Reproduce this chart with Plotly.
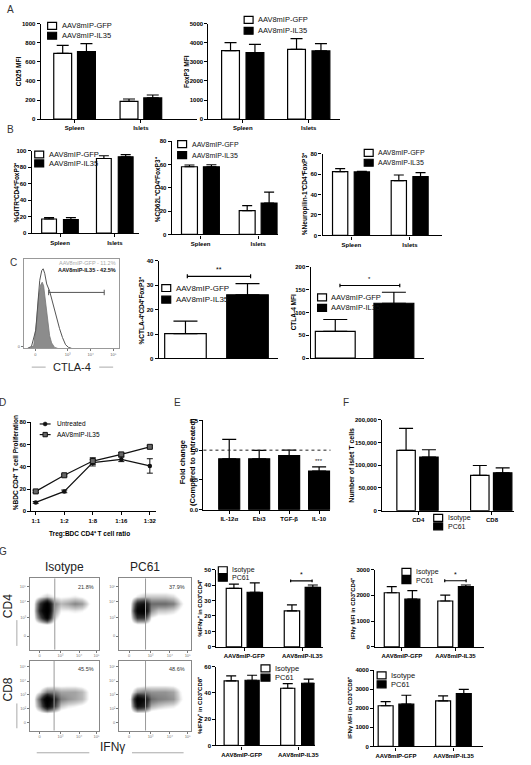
import plotly.graph_objects as go

W, H = 531, 765
FONT = "Liberation Sans, Arial, sans-serif"

# ---------------- data ----------------
aav_groups = ["AAV8mIP-GFP", "AAV8mIP-IL35"]
ab_groups = ["Isotype", "PC61"]
tissues = ["Spleen", "Islets"]

a1_gfp, a1_gfp_sem = [690, 186], [84, 25]
a1_il35, a1_il35_sem = [708, 222], [84, 31]
a2_gfp, a2_gfp_sem = [3595, 3660], [415, 560]
a2_il35, a2_il35_sem = [3490, 3580], [430, 380]

b1_gfp, b1_gfp_sem = [17.2, 90.7], [1.8, 3.3]
b1_il35, b1_il35_sem = [16.5, 92.8], [2.5, 2.7]
b2_gfp, b2_gfp_sem = [58.1, 20.4], [1.5, 4.3]
b2_il35, b2_il35_sem = [58.0, 26.9], [1.8, 9.4]
b3_gfp, b3_gfp_sem = [62.3, 53.6], [2.9, 5.4]
b3_il35, b3_il35_sem = [62.0, 57.4], [0.5, 3.9]

c2_vals, c2_sem = [10.2, 26.1], [5.1, 4.6]
c3_vals, c3_sem = [58.5, 120.0], [26.0, 24.0]

# CTLA-4 histogram (channel 0-100, % of max)
hist_x_il35 = [4, 8, 12.5, 14.6, 16.7, 18.8, 20.3, 21.9, 24, 27.1, 30.2, 33.3, 37.5, 40.6, 43.8, 46.9, 50]
hist_y_il35 = [0, 2, 20, 53, 76, 87, 89, 84, 72, 64, 51, 37, 22, 12, 4, 1, 0]
hist_x_gfp = [6.3, 10.4, 13.5, 15.6, 17.7, 19.3, 20.8, 22.9, 25, 27.1, 29.2, 32.3, 35.4]
hist_y_gfp = [0, 3, 31, 59, 71, 74, 70, 53, 31, 14, 6, 1, 0]

ratios = ["1:1", "1:2", "1:8", "1:16", "1:32"]
d_untreated, d_untreated_err = [8, 17.9, 43.8, 46.7, 40.8], [0.8, 1.2, 3, 2, 6.5]
d_il35, d_il35_err = [17.9, 32.4, 45.2, 51.2, 58.0], [1, 0.8, 3, 1.5, 1]

cytokines = ["IL-12α", "Ebi3", "TGF-β", "IL-10"]
e_fold, e_sem = [0.855, 0.855, 0.91, 0.65], [0.325, 0.14, 0.09, 0.07]

tcells = ["CD4", "CD8"]
f_iso, f_iso_sem = [132600, 77600], [48400, 21700]
f_pc61, f_pc61_sem = [118000, 83400], [16000, 10600]

g1_iso, g1_iso_sem = [37.8, 23.3], [2.8, 3.8]
g1_pc61, g1_pc61_sem = [35.3, 38.5], [6.1, 1.5]
g2_iso, g2_iso_sem = [2100, 1780], [235, 230]
g2_pc61, g2_pc61_sem = [1850, 2335], [330, 65]
g3_iso, g3_iso_sem = [49.2, 43.6], [3.8, 3.6]
g3_pc61, g3_pc61_sem = [49.7, 47.4], [3.8, 3.1]
g4_iso, g4_iso_sem = [2130, 2390], [220, 260]
g4_pc61, g4_pc61_sem = [2210, 2770], [470, 220]

# flow dot-plot densities (rows bottom->top, cols left->right)
grid_pos = [5, 15, 25, 35, 45, 55, 65, 75, 85, 95]
dens_cd4_iso = [
    [0]*10, [0]*10, [0]*10,
    [0, 0, 0.3, 0.1, 0, 0, 0, 0, 0, 0],
    [0, 4, 8, 1.5, 0.2, 0.1, 0.1, 0.1, 0, 0],
    [0, 6, 10, 2.5, 0.8, 0.8, 1.0, 0.8, 0.2, 0],
    [0, 5, 9, 3.0, 1.8, 2.2, 2.8, 2.4, 0.8, 0],
    [0, 0.8, 1.5, 0.8, 0.6, 0.7, 0.9, 0.6, 0.1, 0],
    [0, 0, 0.1, 0, 0, 0, 0, 0, 0, 0],
    [0]*10]
dens_cd4_pc61 = [
    [0]*10, [0]*10, [0]*10,
    [0, 0, 0.2, 0.2, 0, 0, 0, 0, 0, 0],
    [0, 0.3, 5, 5, 0.8, 0.3, 0.3, 0.2, 0.1, 0],
    [0, 0.5, 8, 9, 2.5, 1.5, 1.5, 1.2, 0.5, 0],
    [0, 0.3, 6, 7, 3.5, 3.5, 3.5, 3.0, 1.2, 0],
    [0, 0, 1, 1.5, 1.5, 1.5, 1.5, 1.2, 0.4, 0],
    [0, 0, 0, 0.2, 0.2, 0.2, 0.2, 0.1, 0, 0],
    [0]*10]
dens_cd8_iso = [
    [0]*10, [0]*10,
    [0, 0.3, 0.8, 0.4, 0.1, 0, 0, 0, 0, 0],
    [0, 3, 8, 5, 1.5, 1, 0.8, 0.5, 0.2, 0],
    [0, 4, 10, 6, 3, 2.5, 2.2, 1.8, 0.6, 0],
    [0, 1, 3, 3, 2.2, 2.2, 2.2, 1.8, 0.6, 0],
    [0, 0, 0.3, 0.4, 0.4, 0.5, 0.5, 0.3, 0.1, 0],
    [0]*10, [0]*10, [0]*10]
dens_cd8_pc61 = [
    [0]*10, [0]*10,
    [0, 0, 0.6, 0.5, 0.1, 0, 0, 0, 0, 0],
    [0, 0.5, 7, 6, 2, 1.5, 1.2, 1, 0.4, 0],
    [0, 0.8, 9, 7, 3.5, 3, 2.8, 2.5, 1, 0],
    [0, 0.2, 2.5, 3, 2.5, 2.5, 2.5, 2.2, 0.8, 0],
    [0, 0, 0.2, 0.4, 0.6, 0.6, 0.6, 0.5, 0.2, 0],
    [0]*10, [0]*10, [0]*10]
dot_pct = ["21.8%", "37.9%", "45.5%", "48.6%"]
hist_pct = ["AAV8mIP-GFP - 11.2%", "AAV8mIP-IL35 - 42.5%"]

# ---------------- helpers ----------------
fig = go.Figure()
axes = {}
ann = []
shp = []
cnt = [0]


def X(px):
    return px / W


def Y(py):
    return 1 - py / H


def new_axes(x0, x1, yt, yb, xo, yo):
    cnt[0] += 1
    i = cnt[0]
    s = "" if i == 1 else str(i)
    axes["xaxis" + s] = dict(domain=[X(x0), X(x1)], anchor="y" + s, **xo)
    axes["yaxis" + s] = dict(domain=[Y(yb), Y(yt)], anchor="x" + s, **yo)
    return "x" + s, "y" + s


TICKF = dict(family=FONT, size=6, color="black", weight="bold")


def ystyle(rng, dtick, fmt=None):
    d = dict(range=rng, dtick=dtick, tick0=0, showgrid=False, zeroline=False,
             showline=True, linecolor="black", linewidth=1.3, ticks="outside",
             ticklen=3, tickwidth=1.2, tickcolor="black", tickfont=TICKF,
             fixedrange=True)
    if fmt:
        d["tickformat"] = fmt
    return d


def xstyle(rng, ticks=True, labels=True, size=6):
    return dict(type="category", range=rng, showgrid=False, zeroline=False,
                showline=True, linecolor="black", linewidth=1.3,
                ticks="outside" if ticks else "", ticklen=3, tickwidth=1.2,
                tickcolor="black", showticklabels=labels,
                tickfont=dict(family=FONT, size=size, color="black", weight="bold"),
                fixedrange=True)


def add_bars(xr, yr, cats, vals, sem, width, offset, fill, cap):
    fig.add_trace(go.Bar(
        x=cats, y=vals, width=width, offset=offset, xaxis=xr, yaxis=yr,
        marker=dict(color=fill, line=dict(color="black", width=1.2)),
        error_y=dict(type="data", array=sem, arrayminus=[0] * len(sem),
                     symmetric=False, color="black", thickness=1.2, width=cap),
        showlegend=False, hoverinfo="skip"))


def legend(px, py, names, fills=("white", "black"), size=7.5, gap=10):
    for k, (nm, fc) in enumerate(zip(names, fills)):
        yy = py + k * gap
        shp.append(dict(type="rect", xref="paper", yref="paper",
                        x0=X(px), x1=X(px + 9), y0=Y(yy + 3.5), y1=Y(yy - 3.5),
                        fillcolor=fc, line=dict(color="black", width=1.2)))
        ann.append(dict(x=X(px + 12), y=Y(yy), xref="paper", yref="paper",
                        text=nm, showarrow=False, xanchor="left", yanchor="middle",
                        font=dict(family=FONT, size=size, color="#111")))


def ylab(px, py, text, size=6.5):
    ann.append(dict(x=X(px), y=Y(py), xref="paper", yref="paper", text=text,
                    textangle=-90, showarrow=False, xanchor="center", yanchor="middle",
                    font=dict(family=FONT, size=size, color="black", weight="bold")))


def text(px, py, t, size=8, color="black", xanchor="center", bold=False, angle=0):
    f = dict(family=FONT, size=size, color=color)
    if bold:
        f["weight"] = "bold"
    ann.append(dict(x=X(px), y=Y(py), xref="paper", yref="paper", text=t,
                    showarrow=False, xanchor=xanchor, yanchor="middle", font=f,
                    textangle=angle))


def pline(x0, y0, x1, y1, color="#999", w=1):
    shp.append(dict(type="line", xref="paper", yref="paper", x0=X(x0), x1=X(x1),
                    y0=Y(y0), y1=Y(y1), line=dict(color=color, width=w)))


def bracket(xr, yr, xa, xb, yv, label, h, lsize=7):
    ln = dict(color="black", width=1.2)
    shp.append(dict(type="line", xref=xr, yref=yr, x0=xa, x1=xb, y0=yv, y1=yv, line=ln))
    for xx in (xa, xb):
        shp.append(dict(type="line", xref=xr, yref=yr, x0=xx, x1=xx,
                        y0=yv - h, y1=yv + h, line=ln))
    ann.append(dict(x=(xa + xb) / 2, y=yv, xref=xr, yref=yr, text=label, showarrow=False,
                    yanchor="bottom", yshift=1, font=dict(family=FONT, size=lsize, color="black")))


# ---------------- panel A ----------------
xr, yr = new_axes(41, 198, 21, 117, xstyle([-0.51, 1.84]), ystyle([0, 1000], 200))
add_bars(xr, yr, tissues, a1_gfp, a1_gfp_sem, 0.27, -0.313, "white", 6)
add_bars(xr, yr, tissues, a1_il35, a1_il35_sem, 0.27, 0.045, "black", 6)
legend(48, 23, aav_groups)
ylab(19, 69, "CD25 MFI")

xr, yr = new_axes(210, 343, 21, 117, xstyle([-0.52, 1.48]), ystyle([0, 5000], 1000))
add_bars(xr, yr, tissues, a2_gfp, a2_gfp_sem, 0.27, -0.32, "white", 6)
add_bars(xr, yr, tissues, a2_il35, a2_il35_sem, 0.27, 0.05, "black", 6)
legend(246, 17, aav_groups, gap=11)
ylab(188, 69, "FoxP3 MFI")

# ---------------- panel B ----------------
xr, yr = new_axes(32, 140, 149, 232, xstyle([-0.516, 1.44]), ystyle([0, 100], 20))
add_bars(xr, yr, tissues, b1_gfp, b1_gfp_sem, 0.27, -0.335, "white", 5)
add_bars(xr, yr, tissues, b1_il35, b1_il35_sem, 0.27, 0.063, "black", 5)
legend(35, 152.7, aav_groups, gap=9)
ylab(17, 190, "%GITR⁺CD4⁺FoxP3⁺")

xr, yr = new_axes(173, 280, 139.3, 233.3, xstyle([-0.5, 1.34]), ystyle([0, 80], 20))
add_bars(xr, yr, tissues, b2_gfp, b2_gfp_sem, 0.276, -0.33, "white", 5)
add_bars(xr, yr, tissues, b2_il35, b2_il35_sem, 0.276, 0.05, "black", 5)
legend(179, 142.3, aav_groups, gap=11, size=7)
ylab(159, 188, "%CD62L⁺CD4⁺FoxP3⁺")

xr, yr = new_axes(325, 445, 151.7, 234.3, xstyle([-0.49, 1.54]), ystyle([0, 80], 20))
add_bars(xr, yr, tissues, b3_gfp, b3_gfp_sem, 0.26, -0.32, "white", 5)
add_bars(xr, yr, tissues, b3_il35, b3_il35_sem, 0.26, 0.05, "black", 5)
legend(367, 151, aav_groups, gap=10, size=7)
ylab(308, 192, "%Neuropilin-1⁺CD4⁺FoxP3⁺")

# ---------------- panel C ----------------
hx, hy = new_axes(24, 120, 258, 348,
                  dict(range=[0, 100], showgrid=False, zeroline=False, showline=True,
                       mirror=True, linecolor="#999", linewidth=1, ticks="outside",
                       ticklen=2, tickcolor="#777", tickvals=[12, 46, 70, 94],
                       ticktext=["0", "10³", "10⁴", "10⁵"],
                       tickfont=dict(family=FONT, size=4, color="#666"), fixedrange=True),
                  dict(range=[0, 100], showgrid=False, zeroline=False, showline=True,
                       mirror=True, linecolor="#999", linewidth=1, ticks="outside",
                       ticklen=2, tickcolor="#777", tickvals=[2], ticktext=["0"],
                       tickfont=dict(family=FONT, size=4, color="#666"), fixedrange=True))
fig.add_trace(go.Scatter(x=hist_x_gfp, y=hist_y_gfp, mode="lines", fill="tozeroy",
                         fillcolor="#8c8c8c", line=dict(color="#777", width=0.8),
                         xaxis=hx, yaxis=hy, showlegend=False, hoverinfo="skip"))
fig.add_trace(go.Scatter(x=hist_x_il35, y=hist_y_il35, mode="lines",
                         line=dict(color="#555", width=1), xaxis=hx, yaxis=hy,
                         showlegend=False, hoverinfo="skip"))
text(119, 261.7, hist_pct[0], size=5.5, color="#aaa", xanchor="right")
text(119, 269.5, hist_pct[1], size=5.5, color="#111", xanchor="right", bold=True)
pline(49, 291.7, 105, 291.7, color="#555", w=1)
pline(49, 289, 49, 294.5, color="#555", w=1)
pline(105, 289, 105, 294.5, color="#555", w=1)
text(73, 367, "CTLA-4", size=11, color="#222")
pline(32, 367, 46, 367, color="#aaa")
pline(100, 367, 114, 367, color="#aaa")

xr, yr = new_axes(160, 280, 260, 358.3, xstyle([-0.43, 1.49], ticks=False, labels=False),
                  ystyle([0, 40], 10))
add_bars(xr, yr, [aav_groups[0]], [c2_vals[0]], [c2_sem[0]], 0.67, -0.335, "white", 12)
add_bars(xr, yr, [aav_groups[1]], [c2_vals[1]], [c2_sem[1]], 0.67, -0.335, "black", 12)
bracket(xr, yr, 0.03, 1.05, 33.7, "**", 0.8)
legend(163, 287.3, aav_groups, gap=11.7, size=8)
ylab(143, 310, "%CTLA-4⁺CD4⁺FoxP3⁺")

xr, yr = new_axes(313, 427, 265.7, 358, xstyle([-0.42, 1.51], ticks=False, labels=False),
                  ystyle([0, 200], 50))
add_bars(xr, yr, [aav_groups[0]], [c3_vals[0]], [c3_sem[0]], 0.68, -0.34, "white", 12)
add_bars(xr, yr, [aav_groups[1]], [c3_vals[1]], [c3_sem[1]], 0.68, -0.34, "black", 12)
bracket(xr, yr, 0.08, 1.1, 158.8, "*", 4, lsize=6)
legend(320, 296.7, aav_groups, gap=10.6, size=7.5)
ylab(296, 312, "CTLA-4 MFI")

# ---------------- panel D ----------------
xr, yr = new_axes(31.7, 157, 422.7, 512.3, xstyle([-0.15, 4.21]), ystyle([0, 80], 20))
fig.add_trace(go.Scatter(x=ratios, y=d_untreated, mode="lines+markers", xaxis=xr, yaxis=yr,
                         line=dict(color="#111", width=1.2),
                         marker=dict(symbol="circle", size=4.5, color="#111"),
                         error_y=dict(type="data", array=d_untreated_err, color="#111",
                                      thickness=1, width=3),
                         showlegend=False, hoverinfo="skip"))
fig.add_trace(go.Scatter(x=ratios, y=d_il35, mode="lines+markers", xaxis=xr, yaxis=yr,
                         line=dict(color="#111", width=1.2),
                         marker=dict(symbol="square", size=5, color="#666",
                                     line=dict(color="#111", width=1)),
                         error_y=dict(type="data", array=d_il35_err, color="#111",
                                      thickness=1, width=3),
                         showlegend=False, hoverinfo="skip"))
pline(40, 424.3, 51, 424.3, color="#111", w=1.2)
shp.append(dict(type="circle", xref="paper", yref="paper", x0=X(43.5), x1=X(47.5),
                y0=Y(426.3), y1=Y(422.3), fillcolor="#111", line=dict(color="#111", width=0.5)))
pline(40, 435, 51, 435, color="#111", w=1.2)
shp.append(dict(type="rect", xref="paper", yref="paper", x0=X(43.3), x1=X(47.7),
                y0=Y(437.2), y1=Y(432.8), fillcolor="#666", line=dict(color="#111", width=1)))
text(55, 424.3, "Untreated", size=6.5, xanchor="left")
text(55, 435, "AAV8mIP-IL35", size=6.5, xanchor="left")
text(90, 535, "Treg:BDC CD4⁺ T cell ratio", size=6.5, bold=True)
ylab(15, 463, "%BDC CD4⁺ T cell Proliferation")

# ---------------- panel E ----------------
xr, yr = new_axes(205, 333, 420.7, 510.7, xstyle([-0.86, 3.38]), ystyle([0, 1.5], 0.5, ".1f"))
add_bars(xr, yr, cytokines, e_fold, e_sem, 0.7, -0.35, "black", 7)
shp.append(dict(type="line", xref=xr + " domain", yref=yr, x0=0, x1=1, y0=1, y1=1,
                line=dict(color="#222", width=1, dash="dot")))
ann.append(dict(x=cytokines[3], y=e_fold[3] + e_sem[3], xref=xr, yref=yr, text="***",
                showarrow=False, yanchor="bottom", yshift=1,
                font=dict(family=FONT, size=6, color="#222")))
ylab(189, 463, "Fold change<br>(Compared to untreated)", size=7.5)

# ---------------- panel F ----------------
xr, yr = new_axes(385, 518, 420, 511.7, xstyle([-0.49, 1.30]), ystyle([0, 200000], 50000, ","))
add_bars(xr, yr, tcells, f_iso, f_iso_sem, 0.25, -0.29, "white", 7)
add_bars(xr, yr, tcells, f_pc61, f_pc61_sem, 0.25, 0.02, "black", 7)
legend(437, 519, ab_groups, gap=8.5, size=7)
ylab(354, 466, "Number of islet T cells", size=7)

# ---------------- panel G bars ----------------
gcats = aav_groups
xr, yr = new_axes(218, 325, 571, 649, xstyle([-0.48, 1.35]), ystyle([0, 50], 10))
add_bars(xr, yr, gcats, g1_iso, g1_iso_sem, 0.265, -0.31, "white", 5)
add_bars(xr, yr, gcats, g1_pc61, g1_pc61_sem, 0.265, 0.05, "black", 5)
bracket(xr, yr, 0.8, 1.17, 42.7, "*", 0.9)
legend(220, 571.7, ab_groups, gap=7.6, size=7)
ylab(202, 610, "%IFNγ⁺ in CD3⁺CD4⁺", size=6)

xr, yr = new_axes(378, 488, 571, 649, xstyle([-0.5, 1.54]), ystyle([0, 3000], 1000))
add_bars(xr, yr, gcats, g2_iso, g2_iso_sem, 0.28, -0.33, "white", 5)
add_bars(xr, yr, gcats, g2_pc61, g2_pc61_sem, 0.28, 0.055, "black", 5)
bracket(xr, yr, 0.8, 1.2, 2565, "*", 55)
legend(405, 573.3, ab_groups, gap=8.4, size=7)
ylab(356, 610, "IFNγ MFI in CD3⁺CD4⁺", size=6)

xr, yr = new_axes(218, 317, 669, 748.3, xstyle([-0.447, 1.29]), ystyle([0, 60], 20))
add_bars(xr, yr, gcats, g3_iso, g3_iso_sem, 0.25, -0.31, "white", 5)
add_bars(xr, yr, gcats, g3_pc61, g3_pc61_sem, 0.25, 0.06, "black", 5)
legend(263, 670.7, ab_groups, gap=9.3, size=7.5)
ylab(202, 708, "%IFNγ⁺ in CD3⁺CD8⁺", size=6)

xr, yr = new_axes(377, 487, 672.3, 749.3, xstyle([-0.38, 1.52]), ystyle([0, 4000], 1000))
add_bars(xr, yr, gcats, g4_iso, g4_iso_sem, 0.26, -0.31, "white", 5)
add_bars(xr, yr, gcats, g4_pc61, g4_pc61_sem, 0.26, 0.05, "black", 5)
legend(380, 677.7, ab_groups, gap=9, size=7.5)
ylab(353, 710, "IFNγ MFI in CD3⁺CD8⁺", size=6)

# ---------------- panel G dot plots ----------------
DOT_SCALE = [[0, "white"], [0.07, "white"], [0.15, "#d0d0d0"], [0.3, "#8a8a8a"],
             [0.55, "#333"], [0.8, "#0a0a0a"], [1, "black"]]


def dot_plot(box, dens, gate, pct, yt_vals, yt_text):
    x0, x1, yt, yb = box
    fx = dict(range=[0, 100], showgrid=False, zeroline=False, showline=True, mirror=True,
              linecolor="#888", linewidth=1, ticks="outside", ticklen=2, tickcolor="#777",
              tickvals=[14, 44, 71, 96], ticktext=["0", "10³", "10⁴", "10⁵"],
              tickfont=dict(family=FONT, size=4, color="#777"), fixedrange=True)
    fy = dict(range=[0, 100], showgrid=False, zeroline=False, showline=True, mirror=True,
              linecolor="#888", linewidth=1, ticks="outside", ticklen=2, tickcolor="#777",
              tickvals=yt_vals, ticktext=yt_text,
              tickfont=dict(family=FONT, size=4, color="#777"), fixedrange=True)
    xr, yr = new_axes(x0, x1, yt, yb, fx, fy)
    fig.add_trace(go.Heatmap(z=dens, x=grid_pos, y=grid_pos, zsmooth="best", zmin=0, zmax=9,
                             colorscale=DOT_SCALE, showscale=False, xaxis=xr, yaxis=yr,
                             hoverinfo="skip"))
    shp.append(dict(type="line", xref=xr, yref=yr + " domain", x0=gate, x1=gate, y0=0, y1=1,
                    line=dict(color="#999", width=1)))
    ann.append(dict(x=0.95, y=0.88, xref=xr + " domain", yref=yr + " domain", text=pct,
                    showarrow=False, xanchor="right", yanchor="middle",
                    font=dict(family=FONT, size=5.5, color="#333")))


cd4_yt = ([19, 45, 67, 88], ["0", "10³", "10⁴", "10⁵"])
cd8_yt = ([11, 31, 51, 71, 92], ["0", "10²", "10³", "10⁴", "10⁵"])
dot_plot((30, 100, 580, 651.7), dens_cd4_iso, 36, dot_pct[0], *cd4_yt)
dot_plot((120, 192, 580, 651.7), dens_cd4_pc61, 37, dot_pct[1], *cd4_yt)
dot_plot((30, 100, 663, 733.3), dens_cd8_iso, 35, dot_pct[2], *cd8_yt)
dot_plot((120, 192, 663, 733.3), dens_cd8_pc61, 37, dot_pct[3], *cd8_yt)

text(65, 568, "Isotype", size=12, color="#222")
text(146, 568, "PC61", size=12, color="#222")
text(8, 608, "CD4", size=12, color="#222", angle=-90)
text(8, 692, "CD8", size=12, color="#222", angle=-90)
pline(17, 622, 17, 648, color="#aaa")
pline(17, 706, 17, 731, color="#aaa")
text(113, 750, "IFNγ", size=12, color="#222")
pline(37, 755.7, 90, 755.7, color="#aaa")
pline(133, 755.7, 185, 755.7, color="#aaa")

# panel letters
for lt, px, py in [("A", 5, 7), ("B", 5, 127), ("C", 8, 262), ("D", -3, 403),
                   ("E", 173, 403), ("F", 344, 403), ("G", -3, 553)]:
    text(px, py, lt, size=10, color="#333", xanchor="left")

fig.update_layout(width=W, height=H, margin=dict(l=0, r=0, t=0, b=0),
                  paper_bgcolor="white", plot_bgcolor="white", barmode="overlay",
                  showlegend=False, annotations=ann, shapes=shp, **axes)
fig.write_html("out.html")
